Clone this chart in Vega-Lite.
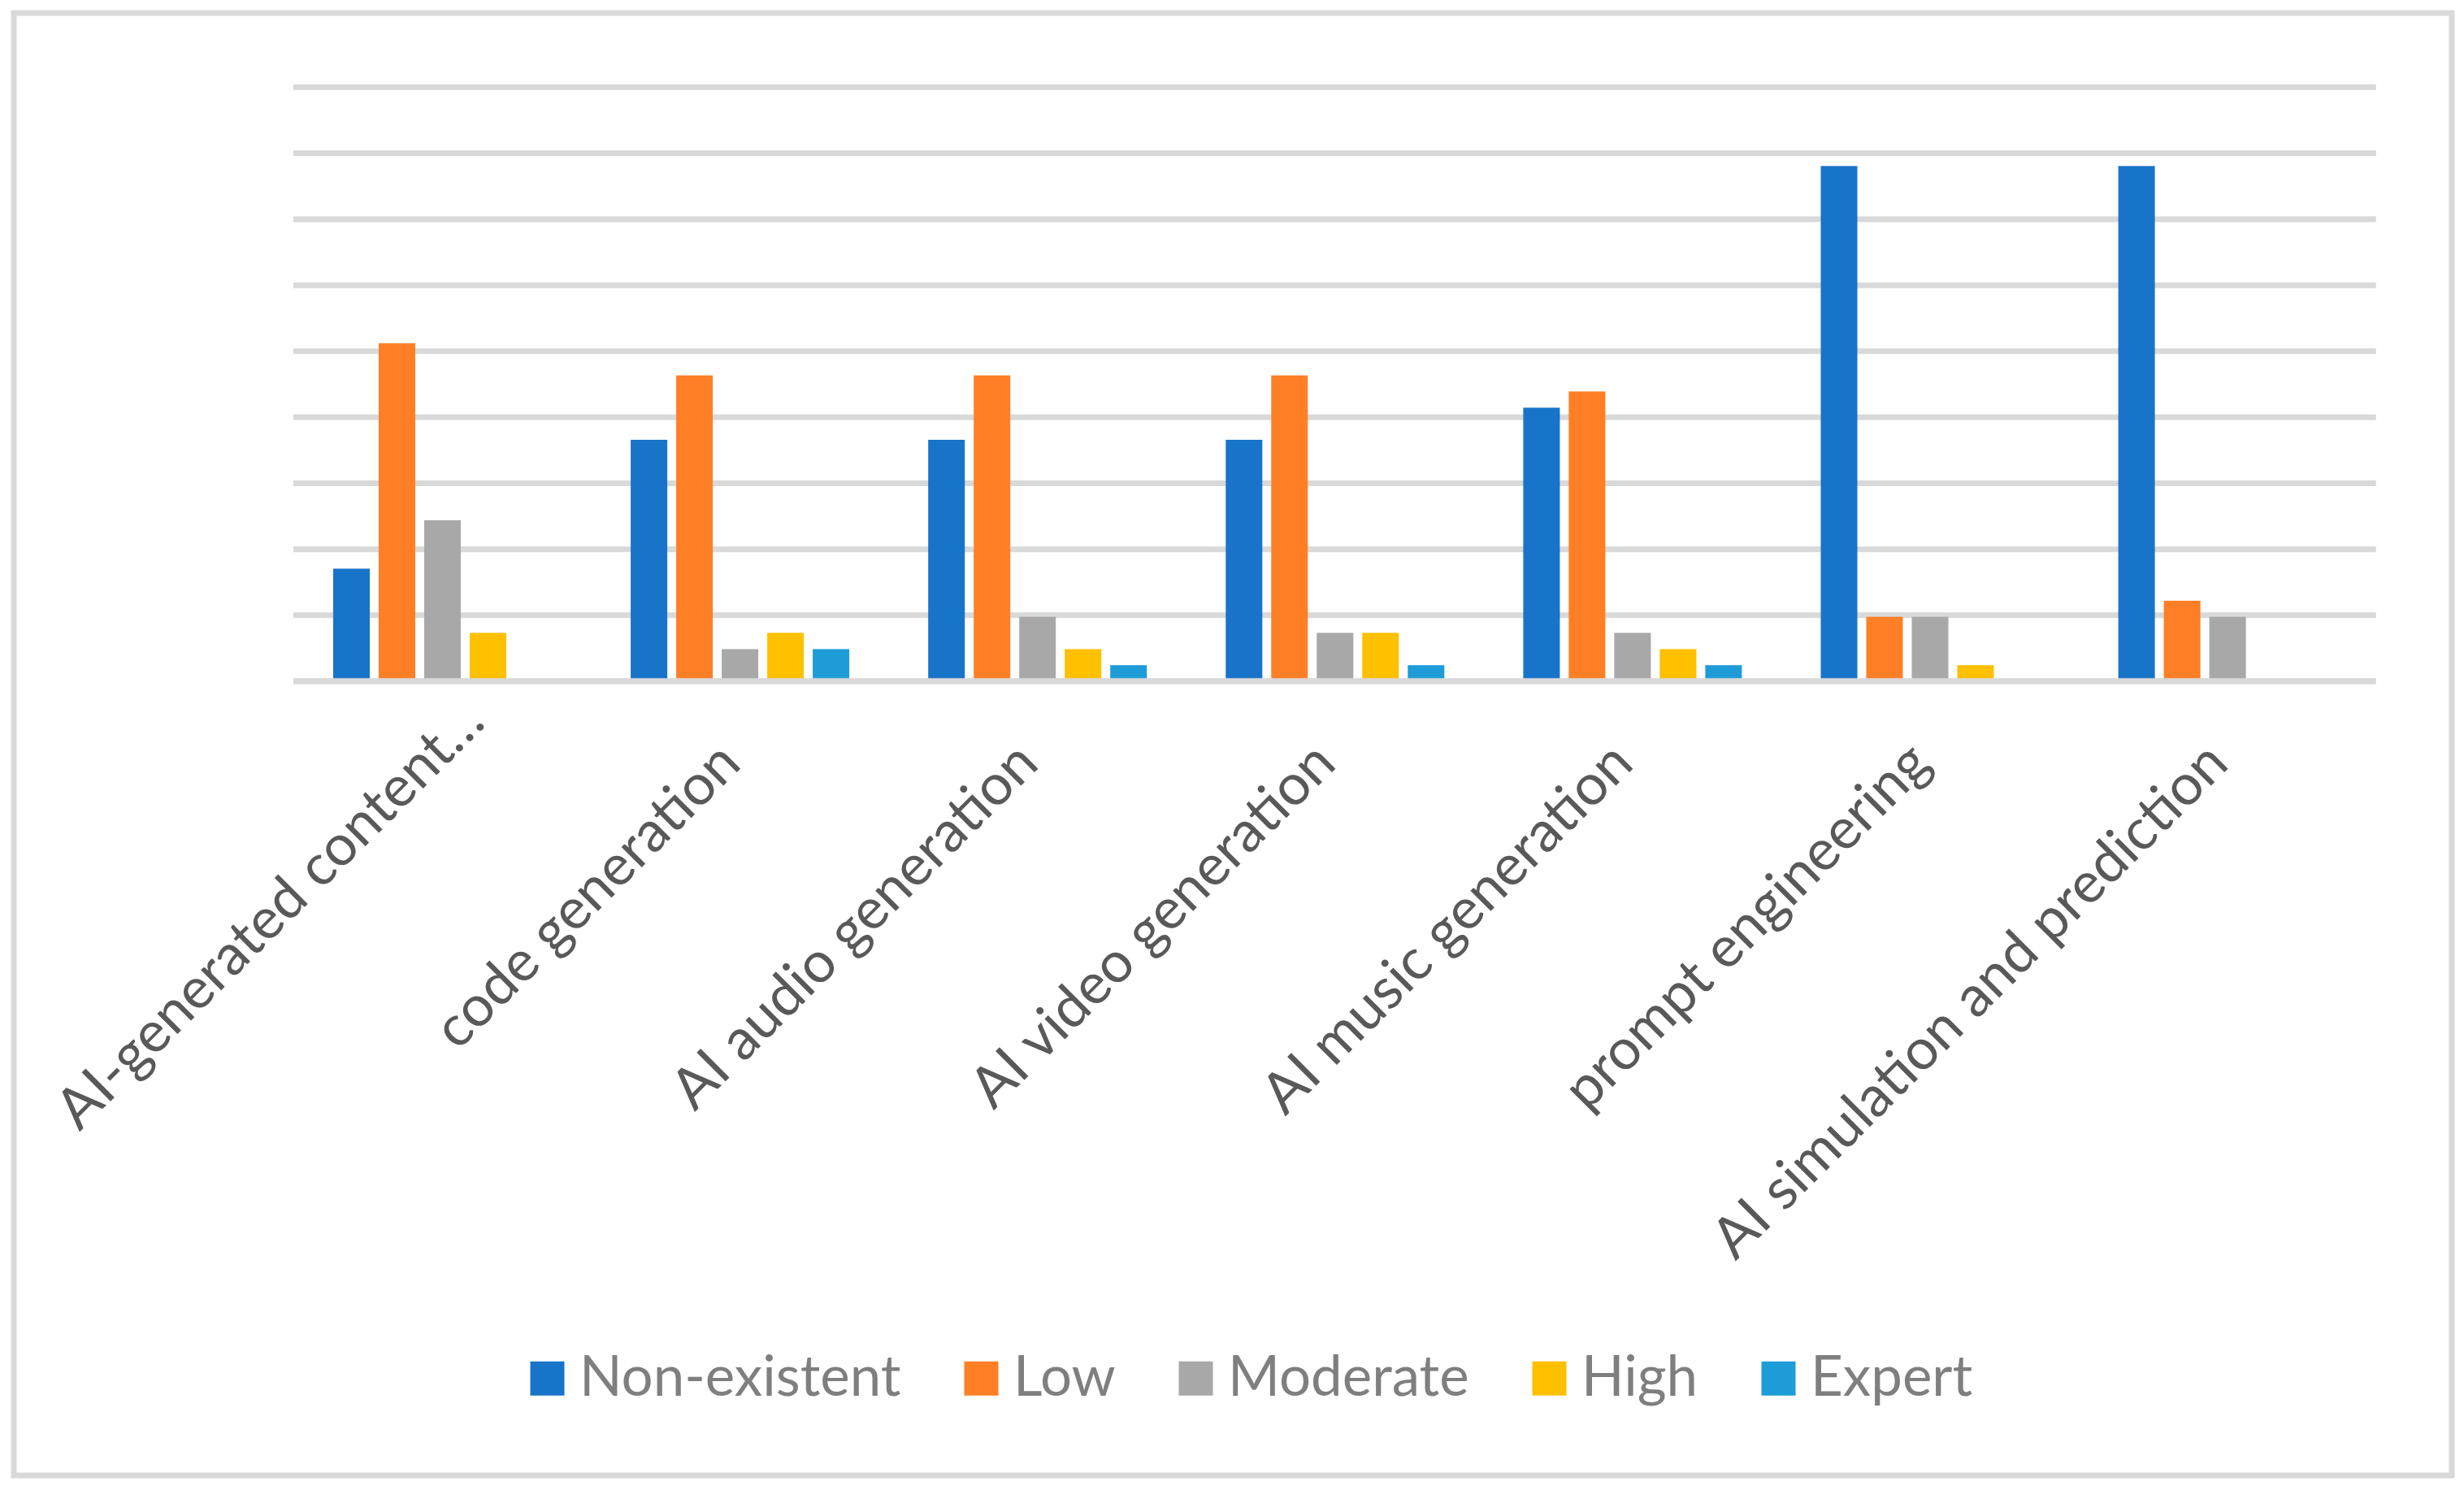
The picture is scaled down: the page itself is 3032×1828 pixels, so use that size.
{
  "$schema": "https://vega.github.io/schema/vega-lite/v6.json",
  "width": 3000,
  "height": 1799,
  "autosize": {"type": "none"},
  "padding": {"left": 17, "top": 16, "right": 15, "bottom": 13},
  "background": "white",
  "config": {"view": {"stroke": "#D9D9D9", "strokeWidth": 7}, "font": "Lato"},
  "datasets": {
    "skills": [
      {"skill": "AI-generated content…", "level": "Non-existent", "pct": 17.07},
      {"skill": "AI-generated content…", "level": "Low", "pct": 51.22},
      {"skill": "AI-generated content…", "level": "Moderate", "pct": 24.39},
      {"skill": "AI-generated content…", "level": "High", "pct": 7.32},
      {"skill": "AI-generated content…", "level": "Expert", "pct": 0},
      {"skill": "code generation", "level": "Non-existent", "pct": 36.59},
      {"skill": "code generation", "level": "Low", "pct": 46.34},
      {"skill": "code generation", "level": "Moderate", "pct": 4.88},
      {"skill": "code generation", "level": "High", "pct": 7.32},
      {"skill": "code generation", "level": "Expert", "pct": 4.88},
      {"skill": "AI audio generation", "level": "Non-existent", "pct": 36.59},
      {"skill": "AI audio generation", "level": "Low", "pct": 46.34},
      {"skill": "AI audio generation", "level": "Moderate", "pct": 9.76},
      {"skill": "AI audio generation", "level": "High", "pct": 4.88},
      {"skill": "AI audio generation", "level": "Expert", "pct": 2.44},
      {"skill": "AI video generation", "level": "Non-existent", "pct": 36.59},
      {"skill": "AI video generation", "level": "Low", "pct": 46.34},
      {"skill": "AI video generation", "level": "Moderate", "pct": 7.32},
      {"skill": "AI video generation", "level": "High", "pct": 7.32},
      {"skill": "AI video generation", "level": "Expert", "pct": 2.44},
      {"skill": "AI music generation", "level": "Non-existent", "pct": 41.46},
      {"skill": "AI music generation", "level": "Low", "pct": 43.9},
      {"skill": "AI music generation", "level": "Moderate", "pct": 7.32},
      {"skill": "AI music generation", "level": "High", "pct": 4.88},
      {"skill": "AI music generation", "level": "Expert", "pct": 2.44},
      {"skill": "prompt engineering", "level": "Non-existent", "pct": 78.05},
      {"skill": "prompt engineering", "level": "Low", "pct": 9.76},
      {"skill": "prompt engineering", "level": "Moderate", "pct": 9.76},
      {"skill": "prompt engineering", "level": "High", "pct": 2.44},
      {"skill": "prompt engineering", "level": "Expert", "pct": 0},
      {"skill": "AI simulation and prediction", "level": "Non-existent", "pct": 78.05},
      {"skill": "AI simulation and prediction", "level": "Low", "pct": 12.2},
      {"skill": "AI simulation and prediction", "level": "Moderate", "pct": 9.76},
      {"skill": "AI simulation and prediction", "level": "High", "pct": 0},
      {"skill": "AI simulation and prediction", "level": "Expert", "pct": 0}
    ],
    "grid": [
      {"v": 10}, {"v": 20}, {"v": 30}, {"v": 40}, {"v": 50},
      {"v": 60}, {"v": 70}, {"v": 80}, {"v": 90}
    ],
    "base": [{"v": 0}]
  },
  "resolve": {"scale": {"x": "independent"}, "axis": {"x": "independent"}},
  "layer": [
    {
      "data": {"name": "grid"},
      "mark": {"type": "rule", "color": "#D9D9D9", "strokeWidth": 7},
      "encoding": {
        "x": {"datum": 0, "type": "quantitative", "scale": {"domain": [-0.9396, 7.2548], "nice": false, "zero": false}, "axis": null},
        "x2": {"datum": 7},
        "y": {"field": "v", "type": "quantitative", "scale": {"domain": [-120.33, 101.25], "nice": false, "zero": false}, "axis": null}
      }
    },
    {
      "data": {"name": "skills"},
      "mark": {"type": "bar"},
      "encoding": {
        "x": {
          "field": "skill",
          "type": "nominal",
          "sort": ["AI-generated content…", "code generation", "AI audio generation", "AI video generation", "AI music generation", "prompt engineering", "AI simulation and prediction"],
          "scale": {"type": "band", "paddingInner": 0.2652, "paddingOuter": 0.7298, "align": 0.7354},
          "axis": {
            "orient": "bottom",
            "offset": -977,
            "domain": false,
            "ticks": false,
            "grid": false,
            "title": null,
            "labelAngle": -45,
            "labelAlign": "right",
            "labelBaseline": "middle",
            "labelPadding": {"condition": {"test": "datum.value === 'AI-generated content…'", "value": 38}, "value": 89},
            "labelOffset": {"condition": {"test": "datum.value === 'AI-generated content…'", "value": 40}, "value": -11},
            "labelFontSize": 70,
            "labelFont": "Lato",
            "labelColor": "#595959",
            "labelLimit": 2000,
            "labelOverlap": false,
            "labelFlush": false
          }
        },
        "xOffset": {
          "field": "level",
          "type": "nominal",
          "sort": ["Non-existent", "Low", "Moderate", "High", "Expert"],
          "scale": {"paddingInner": 0.196, "paddingOuter": 0}
        },
        "y": {
          "field": "pct",
          "type": "quantitative",
          "scale": {"domain": [-120.33, 101.25], "nice": false, "zero": false},
          "axis": null
        },
        "y2": {"datum": 0},
        "color": {
          "field": "level",
          "type": "nominal",
          "sort": ["Non-existent", "Low", "Moderate", "High", "Expert"],
          "scale": {
            "domain": ["Non-existent", "Low", "Moderate", "High", "Expert"],
            "range": ["#1874C8", "#FF7F27", "#A8A8A8", "#FFC000", "#1E9CD8"]
          },
          "legend": {
            "orient": "none",
            "legendX": 622,
            "legendY": 1645,
            "direction": "horizontal",
            "columns": 5,
            "title": null,
            "padding": 0,
            "symbolType": "square",
            "symbolSize": 1764,
            "symbolStrokeWidth": 0,
            "symbolOpacity": 1,
            "labelFont": "Lato",
            "labelFontSize": 69,
            "labelColor": "#7F7F7F",
            "labelOffset": 5,
            "labelLimit": 2000,
            "columnPadding": 64
          }
        }
      }
    },
    {
      "data": {"name": "base"},
      "mark": {"type": "rule", "color": "#D9D9D9", "strokeWidth": 7.5},
      "encoding": {
        "x": {"datum": 0, "type": "quantitative", "scale": {"domain": [-0.9396, 7.2548], "nice": false, "zero": false}, "axis": null},
        "x2": {"datum": 7},
        "y": {"field": "v", "type": "quantitative", "scale": {"domain": [-120.33, 101.25], "nice": false, "zero": false}, "axis": null}
      }
    }
  ]
}
